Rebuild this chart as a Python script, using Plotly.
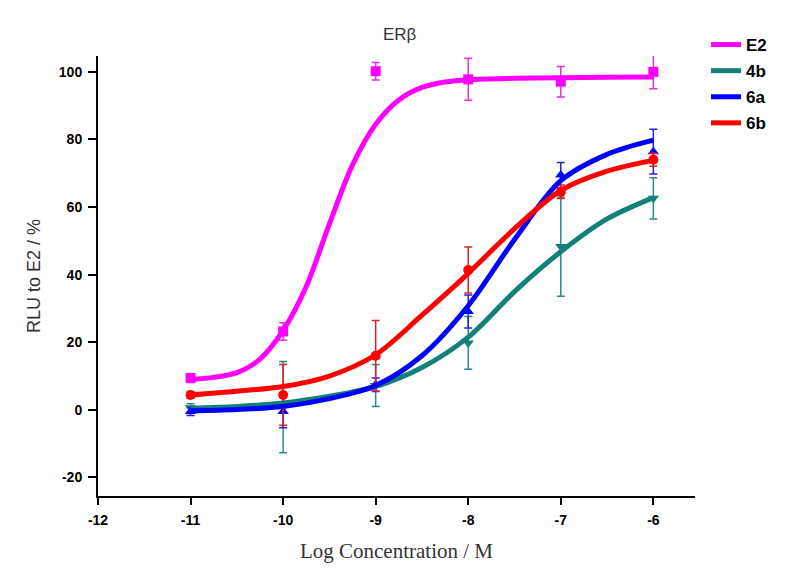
import plotly.graph_objects as go

# Measured data points (log concentration, % RLU to E2) with error bars
conc = [-11, -10, -9, -8, -7, -6]

e2_y = [9.4, 23.2, 100.2, 97.8, 97.1, 100.0]
e2_err = [1.3, 2.6, 2.6, 6.2, 4.5, 5.0]

b4_y = [0.6, 0.8, 7.2, 19.8, 48.3, 62.6]
b4_err = [1.2, 13.5, 6.2, 7.8, 14.7, 6.1]

a6_y = [-0.5, -0.5, 7.4, 29.1, 69.5, 76.4]
a6_err = [1.2, 4.8, 2.0, 4.9, 3.7, 6.6]

b6_y = [4.4, 4.4, 16.0, 41.4, 64.5, 74.0]
b6_err = [1.0, 9.0, 10.4, 6.8, 2.0, 1.9]

# Fitted dose-response curves
e2_cx = [-11.0, -10.75, -10.5, -10.25, -10.0, -9.75, -9.5, -9.25, -9.0, -8.75, -8.5, -8.25, -8.0, -7.5, -7.0, -6.5, -6.0]
e2_cy = [9.0, 9.6, 11.0, 15.0, 23.5, 36.5, 55.0, 72.5, 84.5, 91.7, 95.4, 97.0, 97.7, 98.1, 98.3, 98.4, 98.5]

curve_x = [-11.0, -10.5, -10.0, -9.5, -9.0, -8.5, -8.0, -7.5, -7.0, -6.5, -6.0]
b4_cy = [0.5, 1.0, 2.0, 4.0, 6.9, 12.5, 21.5, 35.0, 46.8, 56.5, 62.8]
a6_cy = [-0.3, 0.1, 1.0, 3.3, 7.2, 16.0, 30.8, 50.4, 67.8, 75.6, 79.8]
b6_cy = [4.4, 5.5, 6.9, 10.0, 16.3, 28.0, 40.4, 53.6, 64.9, 70.6, 73.8]

series = [
    ("E2", "#ff00ff", "#dd33dd", "square", e2_y, e2_err, e2_cx, e2_cy),
    ("4b", "#13807a", "#2a8c86", "triangle-down", b4_y, b4_err, curve_x, b4_cy),
    ("6a", "#0000ff", "#2222dd", "triangle-up", a6_y, a6_err, curve_x, a6_cy),
    ("6b", "#ff0000", "#dd2222", "circle", b6_y, b6_err, curve_x, b6_cy),
]

x_ticks = [-12, -11, -10, -9, -8, -7, -6]
y_ticks = [-20, 0, 20, 40, 60, 80, 100]

# the page adds an 8px body margin; compensate so the photo lines up
OFF = 8
W, H = 800, 582
L = 98 - OFF
T = 56 - OFF
R = W - (695 - OFF)
B = H - (496 - OFF)
plot_w = W - L - R
plot_h = H - T - B


def px_x(p):
    return (p - OFF - L) / plot_w


def px_y(p):
    return 1 - (p - OFF - T) / plot_h


fig = go.Figure()

# error bars + markers
for name, col, ecol, sym, ys, errs, cx, cy in series:
    fig.add_trace(go.Scatter(
        x=conc, y=ys, mode="markers", showlegend=False,
        marker=dict(symbol=sym, size=10, color=col),
        error_y=dict(type="data", array=errs, visible=True,
                     color=ecol, thickness=1.5, width=4),
    ))

# fitted curves (legend entries)
for name, col, ecol, sym, ys, errs, cx, cy in series:
    fig.add_trace(go.Scatter(
        x=cx, y=cy, mode="lines", name=name, legendgroup=name,
        line=dict(color=col, width=5, shape="spline", smoothing=0.9),
    ))

fig.update_layout(
    width=W, height=H,
    paper_bgcolor="white", plot_bgcolor="white",
    margin=dict(l=L, r=R, t=T, b=B, autoexpand=False),
    font=dict(family="Liberation Sans, Arial", color="black"),
    showlegend=True,
    legend=dict(
        x=px_x(706), y=px_y(27), xanchor="left", yanchor="top",
        font=dict(size=17, family="Liberation Sans, Arial", weight="bold", color="black"),
        tracegroupgap=1, bgcolor="rgba(0,0,0,0)",
    ),
    annotations=[
        dict(text="ERβ", x=px_x(400), y=px_y(35),
             xref="paper", yref="paper", showarrow=False,
             font=dict(size=17, color="#333333", family="Liberation Sans, Arial"),
             xanchor="center", yanchor="middle"),
    ],
)

fig.update_xaxes(
    range=[-12, -5.55], tickvals=x_ticks, ticktext=[str(v) for v in x_ticks],
    showline=True, linecolor="black", linewidth=2,
    ticks="outside", ticklen=7, tickwidth=2, tickcolor="black",
    ticklabelstandoff=3,
    showgrid=False, zeroline=False,
    tickfont=dict(size=14, weight="bold", color="black"),
    title=dict(text="Log Concentration / M",
               font=dict(family="Liberation Serif, Times New Roman", size=21, color="#333333"),
               standoff=17),
)
fig.update_yaxes(
    range=[-25.5, 104.7], tickvals=y_ticks, ticktext=[str(v) for v in y_ticks],
    showline=True, linecolor="black", linewidth=2,
    ticks="outside", ticklen=8, tickwidth=2, tickcolor="black",
    ticklabelstandoff=3,
    showgrid=False, zeroline=False,
    tickfont=dict(size=14, weight="bold", color="black"),
    title=dict(text="RLU to E2 / %",
               font=dict(family="Liberation Sans, Arial", size=18, color="#333333"),
               standoff=14),
)

fig.write_html("out.html")
